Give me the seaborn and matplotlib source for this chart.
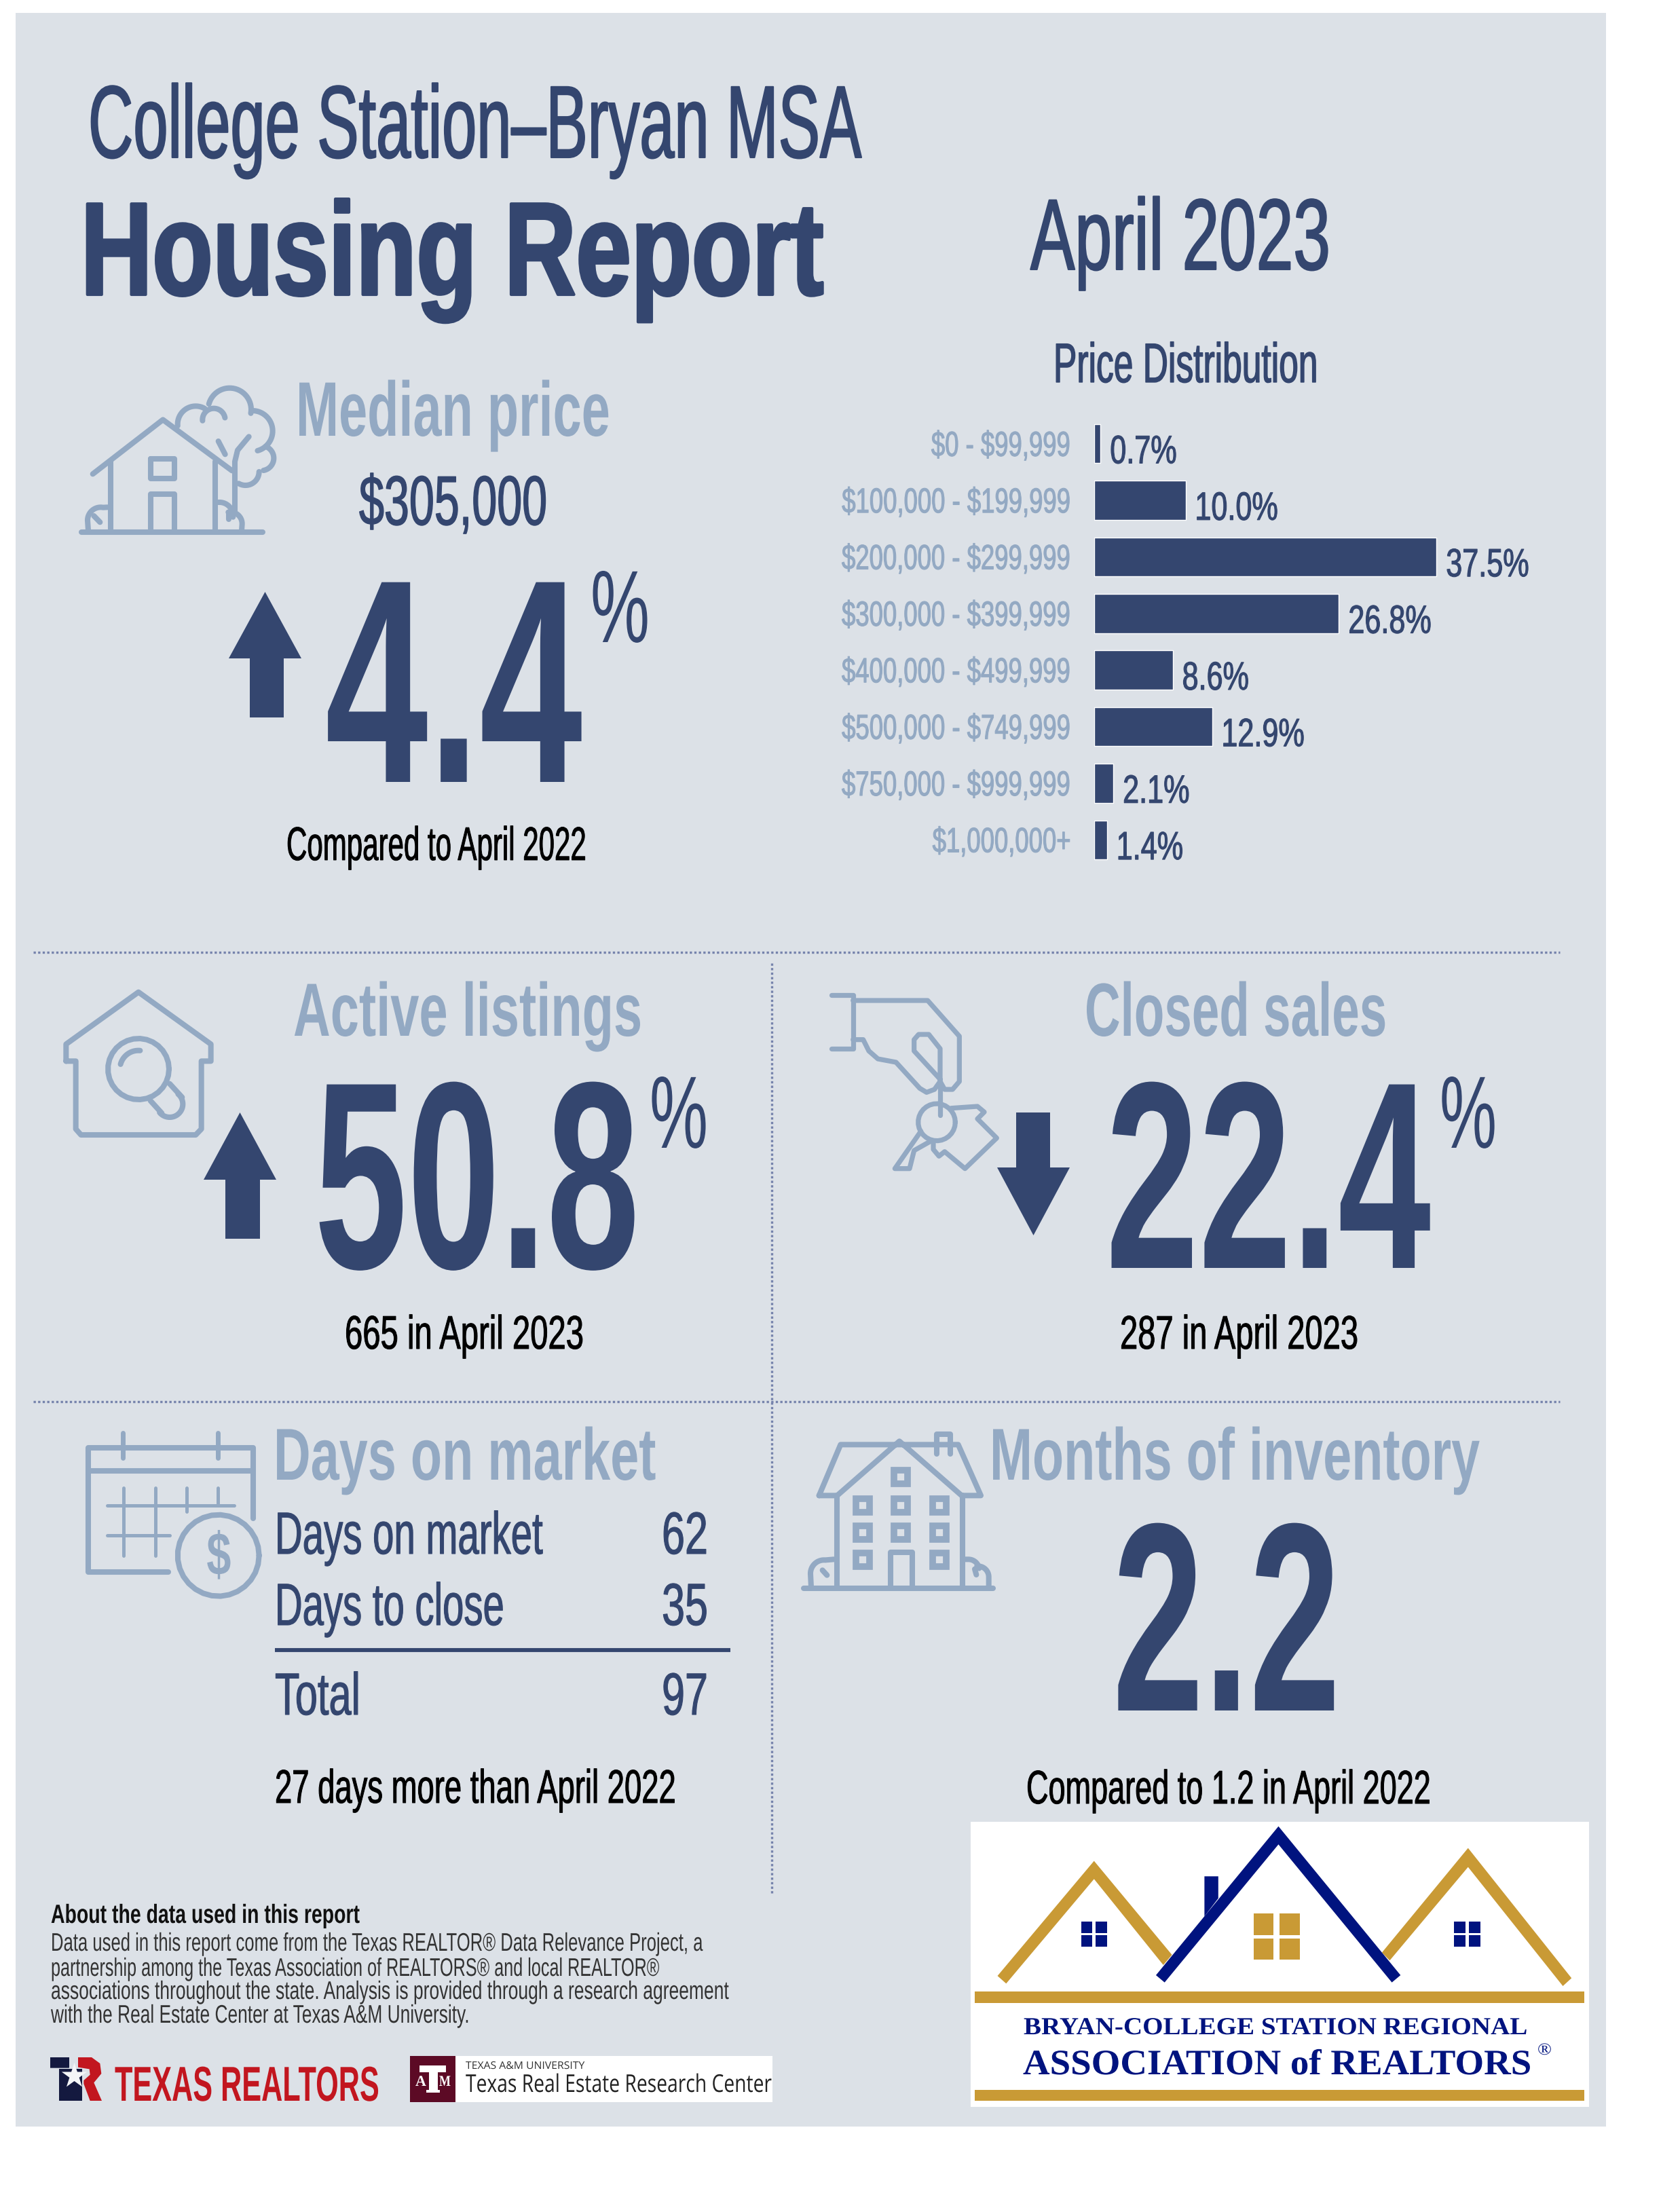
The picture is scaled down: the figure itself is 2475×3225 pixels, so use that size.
import numpy as np
import pandas as pd
import seaborn as sns
import matplotlib
matplotlib.use("Agg")
import matplotlib.pyplot as plt
from matplotlib.patches import Polygon, Rectangle
from matplotlib.patheffects import AbstractPathEffect
from matplotlib.transforms import Affine2D

# --- data ---
price_bands = ["$0 - $99,999", "$100,000 - $199,999", "$200,000 - $299,999", "$300,000 - $399,999",
               "$400,000 - $499,999", "$500,000 - $749,999", "$750,000 - $999,999", "$1,000,000+"]
price_share = [0.7, 10.0, 37.5, 26.8, 8.6, 12.9, 2.1, 1.4]
days_rows = ["Days on market", "Days to close", "Total"]
days_values = [62, 35, 97]
about_lines = ["Data used in this report come from the Texas REALTOR® Data Relevance Project, a",
               "partnership among the Texas Association of REALTORS® and local REALTOR®",
               "associations throughout the state. Analysis is provided through a research agreement",
               "with the Real Estate Center at Texas A&M University."]

NAVY = "#34466F"
STEEL = "#93A9C3"
PANEL = "#DCE1E7"
GOLD = "#C99A35"
LOGO_BLUE = "#00137F"
RED = "#C2161F"
MAROON = "#5C0A25"
NARROW = ["Liberation Sans Narrow", "Liberation Sans", "DejaVu Sans"]
SERIF = ["Liberation Serif", "DejaVu Serif"]

sns.set_theme(style="white")
plt.rcParams["font.family"] = NARROW


class Tall(AbstractPathEffect):
    # the report font is far more condensed than anything installed: keep the width the font
    # size gives and stretch the glyphs upward instead, optionally with a little extra weight
    def __init__(self, sy, center=False, bold=0.0):
        super().__init__()
        self.sy, self.center, self.bold = sy, center, bold

    def draw_path(self, renderer, gc, tpath, affine, rgbFace=None):
        if len(tpath.vertices) == 0:
            return
        mid = (tpath.vertices[:, 1].min() + tpath.vertices[:, 1].max()) / 2 if self.center else 0
        tall = Affine2D().translate(0, -mid).scale(1, self.sy).translate(0, mid) + affine
        gc0 = renderer.new_gc()
        gc0.copy_properties(gc)
        if self.bold:
            gc0.set_foreground(rgbFace)
            gc0.set_linewidth(self.bold)
        renderer.draw_path(gc0, tpath, tall, rgbFace)
        gc0.restore()


fig = plt.figure(figsize=(24.75, 32.25), dpi=100, facecolor="white")
renderer = fig.canvas.get_renderer()
ax = fig.add_axes([0, 0, 1, 1])
ax.set_xlim(0, 2475)
ax.set_ylim(3225, 0)
ax.axis("off")
ax.add_patch(Rectangle((23, 19), 2343, 3114, fc=PANEL, ec="none"))


def label(x, y, s, size, width, color=NAVY, weight="normal", family=NARROW, bold=0.0):
    # x = left edge in pixels, y = baseline, size at dpi 100 is about the cap height in pixels,
    # width = width of the text in pixels
    t = ax.text(x, y, s, fontsize=size, color=color, fontweight=weight, family=family, ha="left", va="baseline",
                parse_math=False)
    sx = width / t.get_window_extent(renderer).width
    t.set_fontsize(size * sx)
    t.set_path_effects([Tall(1 / sx, bold=bold)])


def stroke(ox, oy, pts, lw=5.8, color=STEEL):
    pts = np.array(pts, dtype=float)
    ax.plot(ox + pts[:, 0] / 3, oy + pts[:, 1] / 3, color=color, lw=lw, solid_capstyle="round",
            solid_joinstyle="round")


def arc(cx, cy, r, a0, a1):
    a = np.radians(np.linspace(a0, a1, 30))
    return np.column_stack([cx + r * np.cos(a), cy - r * np.sin(a)])


def arrow(left, right, sl, sr, tip, head, base):
    ax.add_patch(Polygon([(left, head), ((left + right) / 2, tip), (right, head), (sr, head), (sr, base),
                          (sl, base), (sl, head)], fc=NAVY, ec="none"))


# --- header ---
label(130, 232, "College Station–Bryan MSA", 109, 1139, bold=1.5)
label(119, 434, "Housing Report", 140, 1095, weight="bold", bold=3)
label(1518, 397, "April 2023", 107, 442, bold=1.5)
label(1552, 563, "Price Distribution", 59, 390, bold=1)

# --- median price ---
label(436, 642, "Median price", 82, 463, color=STEEL, weight="bold")
label(529, 773, "$305,000", 74, 277, bold=1)
arrow(337, 444, 368, 418, 872, 970, 1057)
label(479, 1152, "4.4", 308, 379, weight="bold")
label(870, 946, "%", 109, 87)
label(422, 1267, "Compared to April 2022", 50, 442, color="black", bold=0.7)

# --- active listings / closed sales ---
label(432, 1526, "Active listings", 80, 514, color=STEEL, weight="bold")
arrow(300, 407, 332, 383, 1639, 1738, 1825)
label(463, 1868, "50.8", 283, 479, weight="bold")
label(957, 1691, "%", 109, 86)
label(508, 1987, "665 in April 2023", 50, 352, color="black", bold=0.7)

label(1598, 1526, "Closed sales", 80, 445, color=STEEL, weight="bold")
arrow(1469, 1576, 1497, 1547, 1820, 1720, 1639)
label(1629, 1868, "22.4", 283, 479, weight="bold")
label(2121, 1691, "%", 109, 84)
label(1650, 1987, "287 in April 2023", 50, 351, color="black", bold=0.7)

# --- days on market ---
label(403, 2180, "Days on market", 78, 564, color=STEEL, weight="bold")
row_y = [2289, 2394, 2526]
row_w = [395, 338, 126]
for name, val, y, w in zip(days_rows, days_values, row_y, row_w):
    label(405, y, name, 63, w, bold=0.8)
    label(975, y, str(val), 63, 68, bold=0.8)
ax.plot([405, 1076], [2431, 2431], color=NAVY, lw=4.2, solid_capstyle="butt")
label(405, 2656, "27 days more than April 2022", 50, 591, color="black", bold=0.7)

# --- months of inventory ---
label(1458, 2180, "Months of inventory", 78, 723, color=STEEL, weight="bold")
label(1639, 2520, "2.2", 285, 336, weight="bold")
label(1512, 2657, "Compared to 1.2 in April 2022", 50, 596, color="black", bold=0.7)

# --- separators ---
dots = (0, (1, 1))
ax.plot([49, 2298], [1403, 1403], color="#7683AC", lw=2.4, ls=dots)
ax.plot([49, 2298], [2065, 2065], color="#7683AC", lw=2.4, ls=dots)
ax.plot([1137, 1137], [1419, 2791], color="#7683AC", lw=2.4, ls=dots)

# --- icon: house and tree ---
ox, oy = 60, 540
stroke(ox, oy, [(230, 475), (540, 235), (845, 460)])
stroke(ox, oy, [(308, 420), (308, 733)])
stroke(ox, oy, [(772, 420), (772, 733)])
stroke(ox, oy, [(180, 733), (980, 733)])
stroke(ox, oy, [(487, 407), (592, 407), (592, 495), (487, 495), (487, 407)])
stroke(ox, oy, [(487, 733), (487, 563), (592, 563), (592, 733)])
stroke(ox, oy, [(858, 640), (858, 420), (870, 370), (920, 310)])
stroke(ox, oy, [(785, 330), (815, 388)])
stroke(ox, oy, arc(835, 190, 95, 165, -10))
stroke(ox, oy, arc(935, 285, 90, 85, -75))
stroke(ox, oy, arc(975, 405, 55, 70, -80))
stroke(ox, oy, arc(905, 465, 60, 0, -120))
stroke(ox, oy, arc(685, 255, 80, 185, 60))
stroke(ox, oy, arc(765, 235, 50, 185, 10))
stroke(ox, oy, np.vstack([[(210, 725)], arc(265, 680, 58, 180, 80), [(295, 622)]]))
stroke(ox, oy, [(235, 660), (262, 688)])
stroke(ox, oy, np.vstack([[(785, 600)], arc(790, 660, 60, 90, -5)]))
stroke(ox, oy, np.vstack([arc(838, 695, 52, 100, -5), [(888, 725)]]))
stroke(ox, oy, [(830, 650), (830, 675)])

# --- icon: house and magnifier ---
ox, oy = 80, 1440
stroke(ox, oy, [(52, 370), (52, 295), (372, 65), (692, 295), (692, 370), (650, 370), (650, 670), (625, 696),
                (118, 696), (95, 670), (95, 370), (52, 370)])
stroke(ox, oy, arc(372, 405, 135, 0, 360))
stroke(ox, oy, arc(372, 405, 82, 165, 85))
stroke(ox, oy, [(510, 470), (565, 530)])
stroke(ox, oy, [(425, 545), (475, 600)])
stroke(ox, oy, arc(510, 560, 58, 50, -140))

# --- icon: hand holding keys ---
ox, oy = 1210, 1450
hand = [[(45, 47), (140, 47), (140, 285), (45, 285)],
        [(140, 72), (470, 72), (610, 230), (610, 430), (580, 465), (545, 465), (525, 430)],
        [(140, 245), (185, 245), (210, 295), (250, 330), (330, 345), (435, 460), (465, 478), (500, 465), (525, 430),
         (525, 285), (475, 222), (430, 222), (410, 245), (410, 295), (525, 420)],
        [(525, 430), (525, 580)],
        [(440, 650), (325, 815), (390, 815), (410, 735), (490, 690)],
        [(575, 548), (690, 540), (720, 565), (690, 595), (775, 680), (635, 815), (545, 740), (520, 760), (495, 730),
         (495, 695)]]
for pts in hand:
    stroke(ox, oy, pts, lw=5.2)
stroke(ox, oy, arc(510, 610, 82, 0, 360), lw=5.2)

# --- icon: calendar ---
ox, oy = 110, 2090
stroke(ox, oy, [(415, 678), (60, 678), (60, 130), (790, 130), (790, 440)])
stroke(ox, oy, [(60, 232), (790, 232)])
for x in (212, 632):
    stroke(ox, oy, [(x, 62), (x, 175)], lw=5)
for x, y1 in zip((217, 356, 494, 632), (605, 605, 410, 375)):
    stroke(ox, oy, [(x, 305), (x, y1)], lw=3.6)
stroke(ox, oy, [(145, 384), (705, 384)], lw=3.6)
stroke(ox, oy, [(145, 516), (420, 516)], lw=3.6)
stroke(ox, oy, arc(635, 605, 180, 0, 360))
label(ox + 583 / 3, oy + 690 / 3, "$", 64, 36, color=STEEL, weight="bold")

# --- icon: big house ---
ox, oy = 1170, 2090
stroke(ox, oy, [(110, 340), (205, 115), (725, 115), (825, 340), (740, 340), (465, 100), (190, 340), (110, 340)])
stroke(ox, oy, [(630, 155), (630, 68), (690, 68), (690, 155)])
stroke(ox, oy, [(190, 340), (190, 750)])
stroke(ox, oy, [(745, 340), (745, 750)])
stroke(ox, oy, [(42, 750), (880, 750)])
stroke(ox, oy, [(425, 750), (425, 590), (522, 590), (522, 750)])
for x, y in [(472, 257), (303, 385), (472, 385), (642, 385), (303, 503), (472, 503), (642, 503), (303, 625), (642, 625)]:
    ax.add_patch(Rectangle((ox + (x - 30) / 3, oy + (y - 30) / 3), 60 / 3, 60 / 3, fc="none", ec=STEEL, lw=7))
stroke(ox, oy, np.vstack([[(75, 745)], arc(132, 685, 60, 180, 85), [(175, 622)]]))
stroke(ox, oy, [(125, 670), (145, 692)])
stroke(ox, oy, np.vstack([[(750, 622)], arc(770, 670, 48, 90, 10)]))
stroke(ox, oy, np.vstack([arc(812, 700, 48, 95, 0), [(860, 745)]]))
stroke(ox, oy, [(798, 665), (805, 690)])

# --- about the data ---
label(75, 2833, "About the data used in this report", 28, 455, color="#111111", weight="bold")
for line, y, w in zip(about_lines, [2874, 2911, 2945, 2980], [961, 897, 999, 617]):
    label(75, y, line, 27, w, color="#333333")

# --- texas realtors logo ---
ox, oy = 60, 3015
logo_navy = [[(42, 48), (140, 48), (125, 95), (42, 95)], [(82, 100), (183, 100), (183, 240), (82, 240)]]
logo_red = [(165, 48), (225, 48), (262, 75), (268, 120), (235, 160), (270, 240), (218, 240), (190, 165), (190, 150),
            (218, 125), (215, 100), (165, 92)]
for pts in logo_navy:
    pts = np.array(pts, dtype=float)
    ax.add_patch(Polygon(np.column_stack([ox + pts[:, 0] / 3, oy + pts[:, 1] / 3]), fc="#14193F", ec="none"))
ax.add_patch(Rectangle((ox + 125 / 3, oy + 48 / 3), 60 / 3, 52 / 3, fc=PANEL, ec="none"))
pts = np.array(logo_red, dtype=float)
ax.add_patch(Polygon(np.column_stack([ox + pts[:, 0] / 3, oy + pts[:, 1] / 3]), fc=RED, ec="none"))
ax.scatter([ox + 148 / 3], [oy + 130 / 3], marker="*", s=800, color="#F4F5F7", linewidths=0, zorder=3)
label(169, 3095, "TEXAS REALTORS", 52, 390, color=RED, weight="bold")

# --- a&m box ---
ax.add_patch(Rectangle((671, 3029), 467, 68, fc="white", ec="none"))
ax.add_patch(Rectangle((604, 3029), 67, 68, fc=MAROON, ec="none"))
ox, oy = 595, 3020
for xa, xb, ya, yb in [(68, 185, 68, 100), (110, 150, 100, 190), (100, 160, 178, 190)]:
    ax.add_patch(Rectangle((ox + xa / 3, oy + ya / 3), (xb - xa) / 3, (yb - ya) / 3, fc="white", ec="none"))
label(612, 3073, "A", 16, 16, color="white", weight="bold", family=SERIF)
label(647, 3073, "M", 16, 17, color="white", weight="bold", family=SERIF)
label(686, 3048, "TEXAS A&M UNIVERSITY", 11, 175, color="#333333", family="Open Sans")
label(686, 3082, "Texas Real Estate Research Center", 26, 452, color="#222222", family="Open Sans")

# --- association logo ---
ax.add_patch(Rectangle((1430, 2684), 911, 420, fc="white", ec="none"))
ox, oy = 1430, 2680


def logo_poly(pts, color):
    pts = np.array(pts, dtype=float)
    ax.add_patch(Polygon(np.column_stack([ox + pts[:, 0] / 1.568, oy + pts[:, 1] / 3]), fc=color, ec="none"))


def logo_rect(x0, x1, y0, y1, color):
    logo_poly([(x0, y0), (x1, y0), (x1, y1), (x0, y1)], color)


logo_poly([(62, 693), (285, 185), (465, 600), (445, 645), (285, 265), (82, 727)], GOLD)
logo_poly([(950, 590), (1149, 128), (1388, 703), (1368, 738), (1149, 212), (968, 625)], GOLD)
logo_poly([(540, 253), (572, 253), (572, 350), (540, 430)], LOGO_BLUE)
logo_poly([(428, 690), (711, 32), (993, 690), (973, 722), (711, 112), (448, 722)], LOGO_BLUE)
logo_rect(10, 1417, 762, 812, GOLD)
logo_rect(10, 1417, 1197, 1245, GOLD)
for xa, xb, ya, yb, col in [(255, 315, 452, 565, LOGO_BLUE), (1117, 1177, 452, 565, LOGO_BLUE),
                            (654, 760, 417, 622, GOLD)]:
    xm, ym = (xa + xb) / 2, (ya + yb) / 2
    gap = 4 if col == LOGO_BLUE else 7
    logo_rect(xa, xm - gap, ya, ym - gap, col)
    logo_rect(xm + gap, xb, ya, ym - gap, col)
    logo_rect(xa, xm - gap, ym + gap, yb, col)
    logo_rect(xm + gap, xb, ym + gap, yb, col)
label(1508, 2997, "BRYAN-COLLEGE STATION REGIONAL", 26, 743, color=LOGO_BLUE, weight="bold", family=SERIF)
label(1507, 3056, "ASSOCIATION of REALTORS", 38, 749, color=LOGO_BLUE, weight="bold", family=SERIF)
label(2265, 3027, "®", 18, 21, color=LOGO_BLUE, family=SERIF)

# --- price distribution, the one real chart ---
ax_bar = fig.add_axes([1612 / 2475, 1 - 1279 / 3225, 538 / 2475, 667 / 3225])
ax_bar.patch.set_alpha(0)
price_df = pd.DataFrame({"band": price_bands, "share": price_share})
sns.barplot(data=price_df, x="share", y="band", color=NAVY, saturation=1, width=0.69, orient="h", ax=ax_bar)
ax_bar.set_xlim(0, 40)
ax_bar.set_xlabel("")
ax_bar.set_ylabel("")
ax_bar.set_xticks([])
sns.despine(ax=ax_bar, left=True, bottom=True)
squeeze = 0.71
ax_bar.tick_params(axis="y", length=0, pad=25, labelsize=37 * squeeze, labelcolor=STEEL)
for tick in ax_bar.get_yticklabels():
    tick.set_parse_math(False)
    tick.set_path_effects([Tall(1 / squeeze, center=True, bold=0.8)])
for i, val in enumerate(price_share):
    ax_bar.annotate(f"{val:.1f}%", xy=(val, i + 0.345), xytext=(10, 0), textcoords="offset points",
                    fontsize=42 * 0.74, color=NAVY, ha="left", va="baseline",
                    path_effects=[Tall(1 / 0.74, bold=0.8)])

fig.savefig("out.png", dpi=100, facecolor="white")
